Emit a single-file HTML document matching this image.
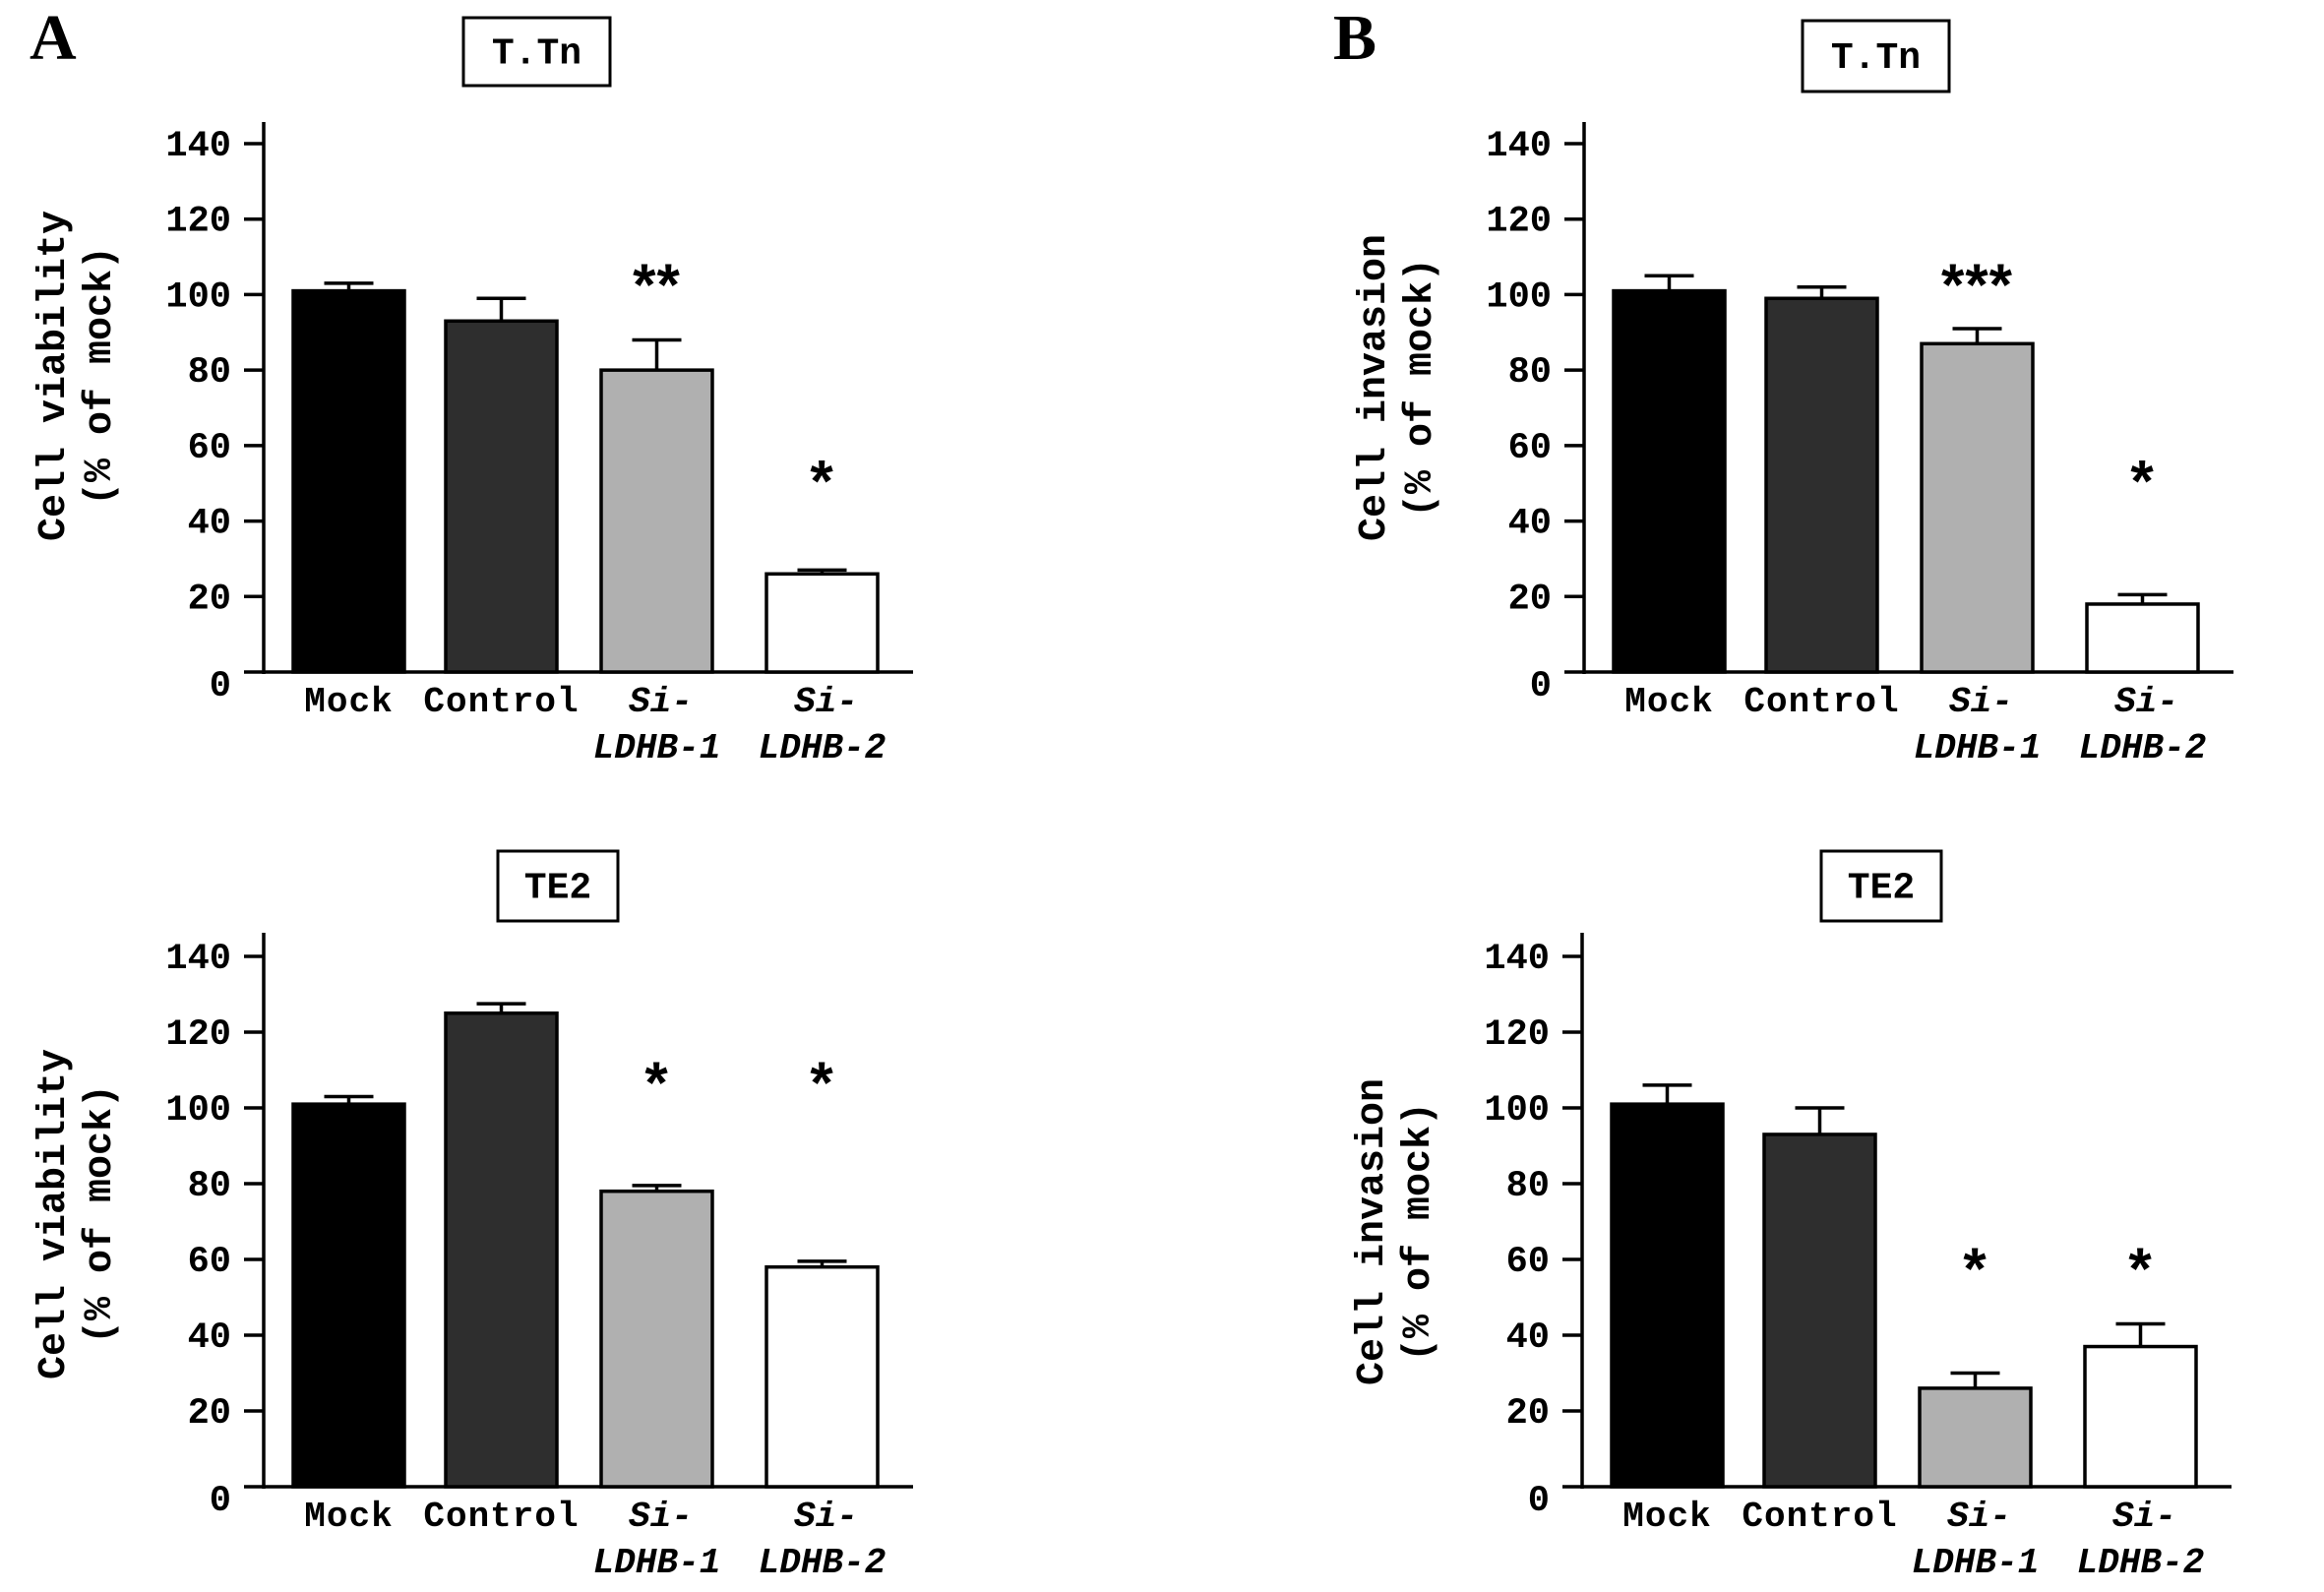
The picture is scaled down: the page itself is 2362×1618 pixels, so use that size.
<!DOCTYPE html>
<html><head><meta charset="utf-8">
<style>
html,body{margin:0;padding:0;background:#fff;}
svg{display:block;}
text{font-family:"Liberation Mono",monospace;font-weight:bold;fill:#000;}
</style></head>
<body>
<svg id="fig" width="2362" height="1618" viewBox="0 0 2362 1618" xmlns="http://www.w3.org/2000/svg">
<text x="30" y="60" font-size="66" style="font-family:'Liberation Serif',serif">A</text>
<text x="1355" y="60" font-size="66" style="font-family:'Liberation Serif',serif">B</text>
</svg>
<script>
const categories = ["Mock","Control","Si-LDHB-1","Si-LDHB-2"];
const yTicks = [0,20,40,60,80,100,120,140];
const ttnViability = [101,93,80,26];
const ttnViabilityErr = [103,99,88,27];
const ttnInvasion = [101,99,87,18];
const ttnInvasionErr = [105,102,91,20.5];
const te2Viability = [101,125,78,58];
const te2ViabilityErr = [103,127.5,79.5,59.5];
const te2Invasion = [101,93,26,37];
const te2InvasionErr = [106,100,30,43];
const starLabels1 = ["","","**","*"];
const starLabels2 = ["","","***","*"];
const starLabels3 = ["","","*","*"];
const starLabels4 = ["","","*","*"];
const starValues1 = [0,0,104,52];
const starValues2 = [0,0,104,52];
const starValues3 = [0,0,108,108];
const starValues4 = [0,0,59,59];

const NS="http://www.w3.org/2000/svg";
const svg=document.getElementById('fig');
const fills=["#000","#2e2e2e","#b0b0b0","#fff"];
function mk(tag,attrs,parent){const e=document.createElementNS(NS,tag);for(const k in attrs)e.setAttribute(k,attrs[k]);(parent||svg).appendChild(e);return e;}

function panel(o){
  const g=mk('g',{});
  
  
  const base=o.base, span=o.span;
  const y=v=>base - v/140*span;
  const tb=mk('rect',{x:o.tx,y:o.ty,width:o.tw,height:o.th,fill:'#fff',stroke:'#000','stroke-width':3},g);
  
  
  const tt=mk('text',{x:o.tx+o.tw/2,y:o.ty+o.th/2+12,'font-size':38,'text-anchor':'middle'},g);
  tt.textContent=o.title;
  
  
  const ya=mk('line',{x1:o.ax,y1:o.atop,x2:o.ax,y2:base+2,stroke:'#000','stroke-width':3.5},g);
  
  
  const xa=mk('line',{x1:o.ax-20,y1:base,x2:o.ax+660,y2:base,stroke:'#000','stroke-width':3.5},g);
  
  
  yTicks.forEach(t=>{
    if(t>0){const tl=mk('line',{x1:o.ax-20,y1:y(t),x2:o.ax,y2:y(t),stroke:'#000','stroke-width':3.5},g);
    
    }
    const lb=mk('text',{x:o.ax-33,y:(t===0?y(t)+24:y(t)+12),'font-size':37,'text-anchor':'end'},g);
    lb.textContent=t;
    
    
  });
  const yt=mk('text',{transform:`translate(${o.ax-203},${o.ycy}) rotate(-90)`,'font-size':40,'text-anchor':'middle'},g);
  yt.textContent=o.ylab;
  
  
  const yt2=mk('text',{transform:`translate(${o.ax-156},${o.ycy}) rotate(-90)`,'font-size':40,'text-anchor':'middle'},g);
  yt2.textContent="(% of mock)";
  
  
  const offs=[30,185,343,511];
  const bw=113;
  categories.forEach((c,i)=>{
    const x0=o.ax+offs[i], cx=x0+bw/2;
    const v=o.vals[i], e=o.errs[i];
    const el=mk('line',{x1:cx,y1:y(e),x2:cx,y2:y(v),stroke:'#000','stroke-width':3.5},g);
    
    
    const ec=mk('line',{x1:cx-25,y1:y(e),x2:cx+25,y2:y(e),stroke:'#000','stroke-width':3.5},g);
    
    
    const r=mk('rect',{x:x0,y:y(v),width:bw,height:base-y(v),fill:fills[i],stroke:'#000','stroke-width':3.5},g);
    
    
    if(o.stars[i]){
      const s=mk('text',{x:cx,y:y(o.starv[i])+26,'font-size':60,'text-anchor':'middle','letter-spacing':'1',style:"font-family:'Liberation Sans',sans-serif"},g);
      s.textContent=o.stars[i];
      
      
    }
    if(i<2){
      const t=mk('text',{x:cx,y:base+40,'font-size':36,'text-anchor':'middle','letter-spacing':'1'},g);
      t.textContent=c;
      
      
    } else {
      const t=mk('text',{x:cx+4,y:base+40,'font-size':36,'text-anchor':'middle','font-style':'italic'},g);
      t.textContent="Si-";
      
      
      const t2=mk('text',{x:cx,y:base+87,'font-size':36,'text-anchor':'middle','font-style':'italic'},g);
      t2.textContent=c.slice(3);
      
      
    }
  });
}
panel({name:'panel-a-ttn-viability',ax:268,atop:124,base:683,span:537,tx:471,ty:18,tw:149,th:69,title:'T.Tn',ylab:'Cell viability',ycy:382,vals:ttnViability,errs:ttnViabilityErr,stars:starLabels1,starv:starValues1});
panel({name:'panel-b-ttn-invasion',ax:1610,atop:124,base:683,span:537,tx:1832,ty:21,tw:149,th:72,title:'T.Tn',ylab:'Cell invasion',ycy:394,vals:ttnInvasion,errs:ttnInvasionErr,stars:starLabels2,starv:starValues2});
panel({name:'panel-a-te2-viability',ax:268,atop:948,base:1511,span:539,tx:506,ty:865,tw:122,th:71,title:'TE2',ylab:'Cell viability',ycy:1234,vals:te2Viability,errs:te2ViabilityErr,stars:starLabels3,starv:starValues3});
panel({name:'panel-b-te2-invasion',ax:1608,atop:948,base:1511,span:539,tx:1851,ty:865,tw:122,th:71,title:'TE2',ylab:'Cell invasion',ycy:1252,vals:te2Invasion,errs:te2InvasionErr,stars:starLabels4,starv:starValues4});
</script>
</body></html>
